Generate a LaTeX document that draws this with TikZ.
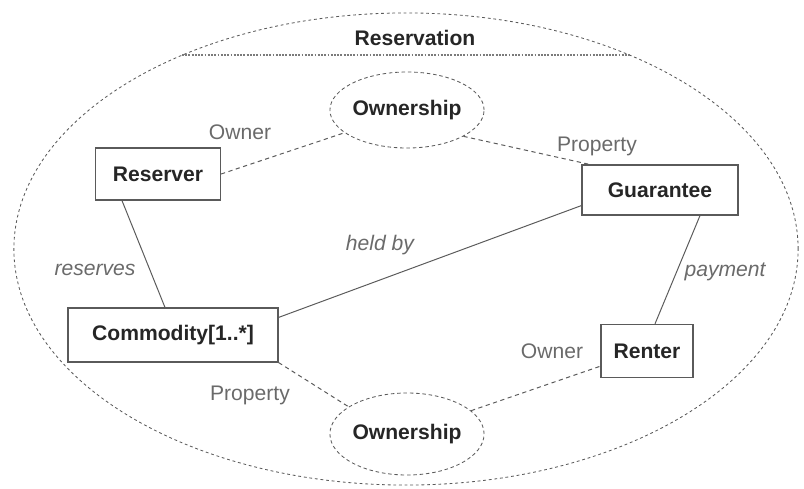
\documentclass[tikz,border=0pt]{standalone}
\usepackage{fontspec}
\setmainfont{Liberation Sans}
\usetikzlibrary{shapes.geometric}
\definecolor{linegray}{HTML}{5A5A5A}
\definecolor{labelgray}{HTML}{6A6A6A}

\begin{document}
\begin{tikzpicture}[
    x=0.025cm, y=-0.025cm,
    classbox/.style={draw=linegray, line width=0.8pt, fill=white, font=\fontsize{15}{18}\selectfont\bfseries, text=black!85, inner sep=0pt},
    assoc/.style={draw, ellipse, dash pattern=on 2.5pt off 2pt, draw=linegray, line width=0.6pt, font=\fontsize{15}{18}\selectfont\bfseries, text=black!85, inner sep=0pt, minimum width=3.4cm},
    role/.style={font=\fontsize{15}{18}\selectfont, text=labelgray},
    verb/.style={font=\fontsize{15}{18}\selectfont\itshape, text=labelgray},
    link/.style={draw=linegray, line width=0.7pt},
    rolelink/.style={draw=linegray, line width=0.7pt, dash pattern=on 3pt off 2.5pt}
  ]
  \useasboundingbox (0,0) rectangle (804,488);

  % Collaboration
  \node[draw=linegray, ellipse, line width=0.6pt, dash pattern=on 2pt off 2pt, minimum width=19.6cm, minimum height=11.8cm] (resv) at (406,249) {};
  \node[font=\fontsize{15}{18}\selectfont\bfseries, text=black!85] (resvname) at (415,38) {Reservation};
  \coordinate (sepl) at (182,55);
  \coordinate (sepr) at (630,55);
  \draw[draw=linegray!80, line width=1.3pt, densely dotted] (sepl) -- (sepr);

  % Roles
  \node[classbox, minimum width=3.125cm, minimum height=1.3cm] (reserver) at (158,174) {Reserver};
  \node[classbox, minimum width=3.9cm, minimum height=1.25cm] (guarantee) at (660,190) {Guarantee};
  \node[classbox, minimum width=5.25cm, minimum height=1.35cm] (commodity) at (173,335) {Commodity[1..*]};
  \node[classbox, minimum width=2.3cm, minimum height=1.33cm] (renter) at (647,351) {Renter};

  % Nested collaborations
  \node[assoc, minimum height=1.9cm] (owntop) at (407,110) {Ownership};
  \node[assoc, minimum height=2.05cm] (ownbot) at (407,434) {Ownership};

  % Connectors
  \draw[rolelink] (reserver.east) -- (owntop.200);
  \draw[rolelink] (owntop.-25) -- (guarantee.160);
  \draw[link] ([xshift=-0.9cm]reserver.south) -- ([xshift=-0.2cm]commodity.north);
  \draw[link] ([yshift=-0.25cm]commodity.north east) -- ([yshift=0.25cm]guarantee.south west);
  \draw[link] ([xshift=1cm]guarantee.south) -- ([xshift=0.2cm]renter.north);
  \draw[rolelink] (commodity.south east) -- (ownbot.155);
  \draw[rolelink] (ownbot.20) -- ([yshift=0.3cm]renter.south west);

  % Labels
  \node[role] (lowner1) at (240,132) {Owner};
  \node[role] (lprop1) at (597,146) {Property};
  \node[verb] (lreserves) at (95,270) {reserves};
  \node[verb] (lheld) at (380,245) {held by};
  \node[verb] (lpay) at (725,272) {payment};
  \node[role] (lowner2) at (552,351) {Owner};
  \node[role] (lprop2) at (250,395) {Property};
\end{tikzpicture}
\end{document}
